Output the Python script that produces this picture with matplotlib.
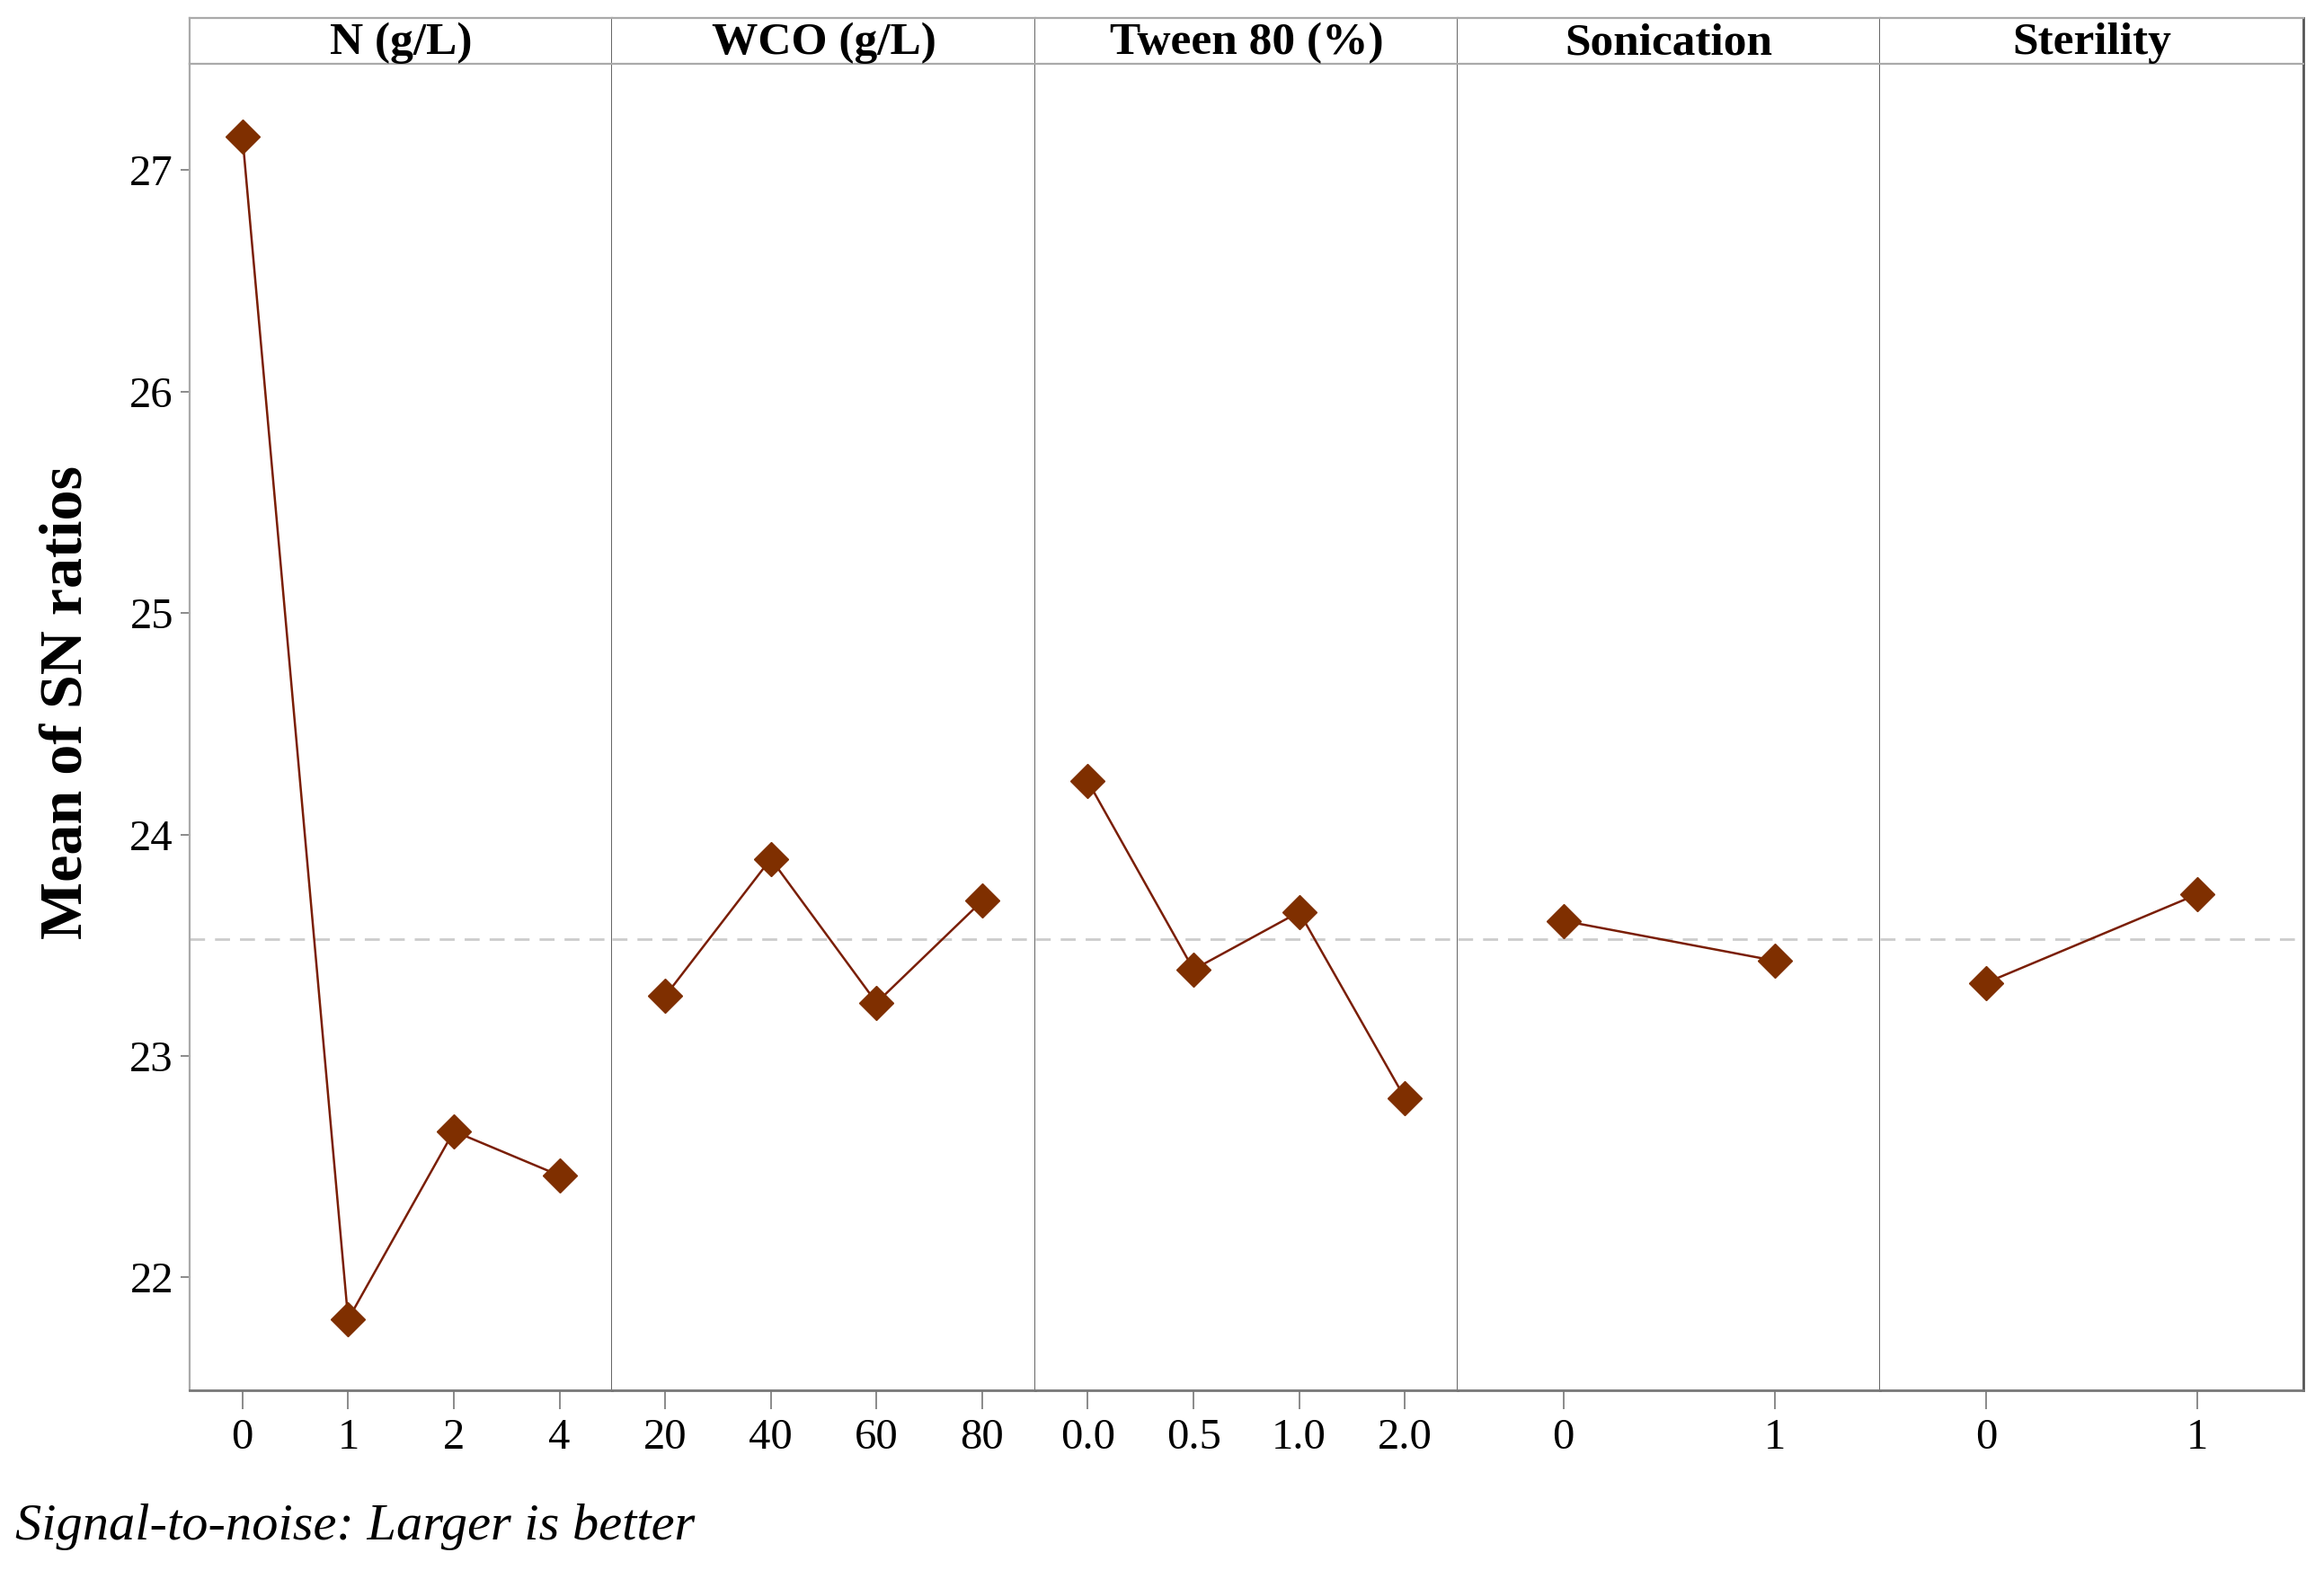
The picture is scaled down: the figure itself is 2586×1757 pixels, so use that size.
import matplotlib
matplotlib.use("Agg")
import matplotlib.pyplot as plt

factors = ["N (g/L)", "WCO (g/L)", "Tween 80 (%)", "Sonication", "Sterility"]
levels = [["0", "1", "2", "4"],
          ["20", "40", "60", "80"],
          ["0.0", "0.5", "1.0", "2.0"],
          ["0", "1"],
          ["0", "1"]]
sn_N = [27.15, 21.81, 22.66, 22.46]
sn_WCO = [23.27, 23.89, 23.24, 23.70]
sn_Tween = [24.24, 23.39, 23.65, 22.81]
sn_Sonication = [23.61, 23.43]
sn_Sterility = [23.33, 23.73]
means = [sn_N, sn_WCO, sn_Tween, sn_Sonication, sn_Sterility]
grand_mean = 23.526
yticks = [22, 23, 24, 25, 26, 27]

W, H = 2586, 1757
fig = plt.figure(figsize=(W / 100, H / 100), dpi=100)

serif = ["Liberation Serif", "DejaVu Serif"]
left, right = 0.0816, 0.991
bottom, top = 0.1195, 0.9596
strip_top = 0.9886
pw = (right - left) / 5

line_col = "#7a1e05"
mark_col = "#7f2f00"
sep_col = "#555555"
light_col = "#aaaaaa"

for i, (fac, lev, vals) in enumerate(zip(factors, levels, means)):
    ax = fig.add_axes([left + i * pw, bottom, pw, top - bottom])
    n = len(lev)
    xs = list(range(n))
    ax.axhline(grand_mean, color="#cccccc", lw=2, ls=(0, (6, 4)), zorder=1)
    ax.plot(xs, vals, color=line_col, lw=1.8, marker="D", ms=19,
            mfc=mark_col, mec=mark_col, zorder=3)
    ax.set_xlim(-0.5, n - 0.5)
    ax.set_ylim(21.49, 27.48)
    ax.set_xticks(xs)
    ax.set_xticklabels(lev, fontfamily=serif, fontsize=35)
    ax.tick_params(axis="x", length=15, width=1.2, color="#777777", pad=7)
    ax.spines["top"].set_visible(False)
    ax.spines["bottom"].set_color("#777777")
    ax.spines["bottom"].set_linewidth(2)
    ax.spines["right"].set_color(sep_col)
    ax.spines["right"].set_linewidth(2)
    if i == 0:
        ax.set_yticks(yticks)
        ax.set_yticklabels([str(t) for t in yticks], fontfamily=serif, fontsize=35)
        ax.tick_params(axis="y", length=7, width=1.2, color="#777777", pad=6)
        ax.spines["left"].set_color(light_col)
        ax.spines["left"].set_linewidth(1.6)
    else:
        ax.set_yticks([])
        ax.spines["left"].set_visible(False)

    sax = fig.add_axes([left + i * pw, top, pw, strip_top - top])
    sax.set_xticks([])
    sax.set_yticks([])
    for s in sax.spines.values():
        s.set_color(light_col)
        s.set_linewidth(1.6)
    sax.spines["left"].set_visible(i == 0)
    sax.spines["right"].set_color(sep_col)
    sax.spines["right"].set_linewidth(2)
    sax.text(0.5, 0.45, fac, ha="center", va="center", fontfamily=serif,
             fontweight="bold", fontsize=37, transform=sax.transAxes)

fig.text(0.0287, 0.555, "Mean of SN ratios", rotation=90, ha="center", va="center",
         fontfamily=serif, fontweight="bold", fontsize=49)
fig.text(0.0064, 0.033, "Signal-to-noise: Larger is better", ha="left", va="center",
         fontfamily=serif, fontstyle="italic", fontsize=42)

fig.savefig("out.png", dpi=100)
